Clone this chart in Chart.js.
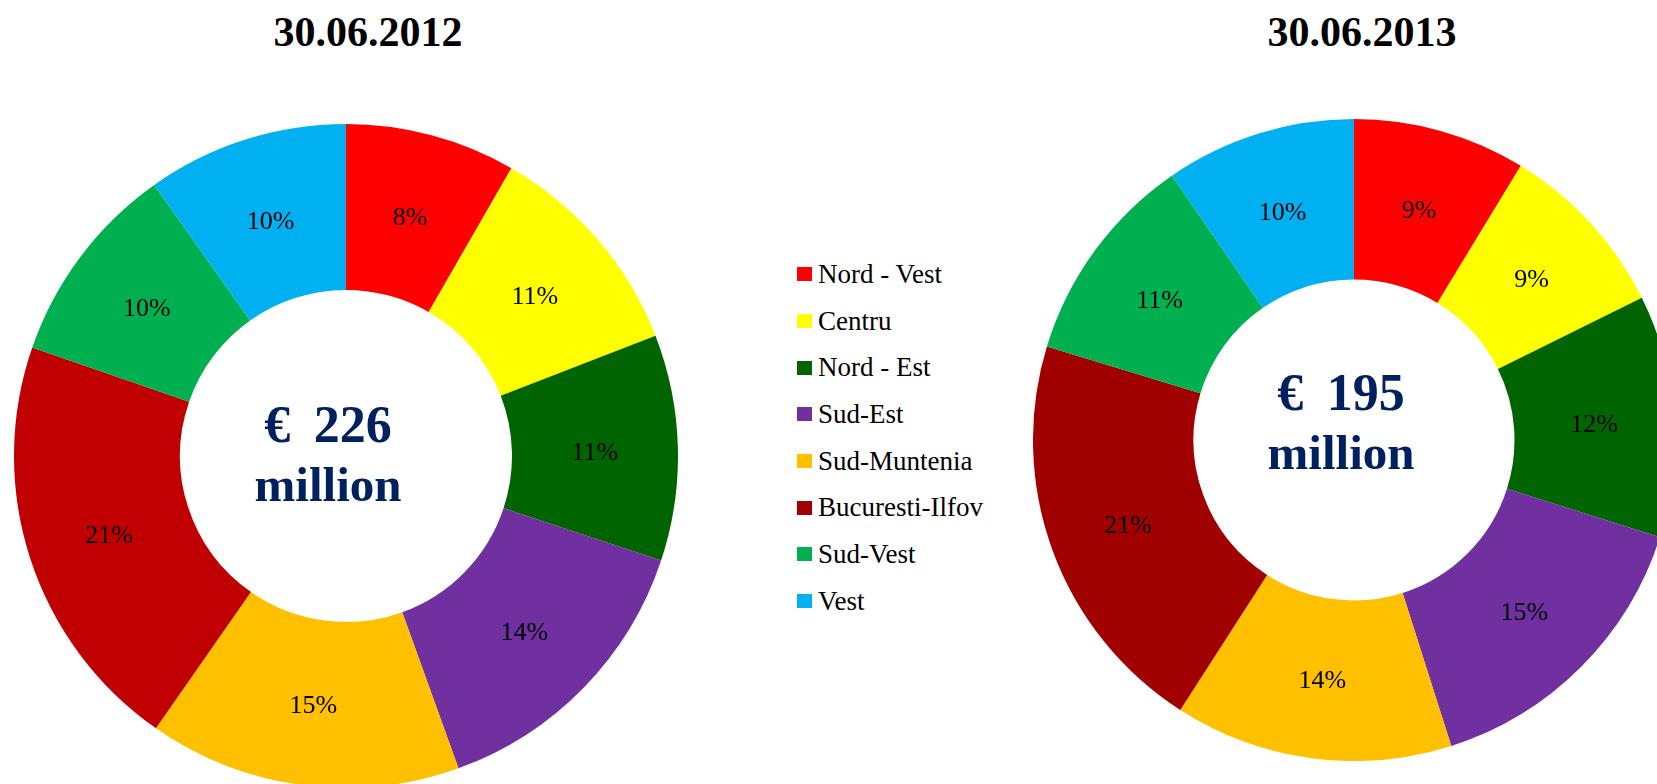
<!DOCTYPE html>
<html>
<head>
<meta charset="utf-8">
<script src="https://cdn.jsdelivr.net/npm/chart.js@4"></script>
<style>
  html, body { margin: 0; padding: 0; background: #fff; }
  body { width: 1657px; height: 784px; overflow: hidden; position: relative;
         font-family: "Liberation Serif", "Times New Roman", serif; }
  .box { position: absolute; }
  .title { position: absolute; width: 400px; text-align: center; font-weight: bold;
           font-size: 42px; line-height: 46px; color: #000; }
  #legend { position: absolute; left: 797px; top: 251px; }
  #legend div { height: 46.7px; display: flex; align-items: center; font-size: 27px; color: #000; }
  #legend span.sw { display: inline-block; width: 15px; height: 14px; margin-right: 6px; }
</style>
</head>
<body>

<div class="title" style="left:168px; top:9px;">30.06.2012</div>
<div class="title" style="left:1162px; top:9px;">30.06.2013</div>

<div class="box" style="left:14px; top:124px; width:664px; height:664px;"><canvas id="c2012" width="664" height="664"></canvas></div>
<div class="box" style="left:1033px; top:119px; width:642px; height:642px;"><canvas id="c2013" width="642" height="642"></canvas></div>

<div id="legend"></div>

<script>
// Data
const regions = ['Nord - Vest', 'Centru', 'Nord - Est', 'Sud-Est', 'Sud-Muntenia', 'Bucuresti-Ilfov', 'Sud-Vest', 'Vest'];
const share2012 = [8.3, 10.8, 11.0, 14.4, 15.2, 20.6, 9.9, 9.8];
const share2013 = [8.7, 9.0, 12.2, 15.2, 14.0, 20.6, 10.7, 9.6];
const total2012 = 226;
const total2013 = 195;

const colors2012 = ['#FF0000', '#FFFF00', '#006400', '#7030A0', '#FFC000', '#C00000', '#00B050', '#00B0F0'];
const colors2013 = ['#FF0000', '#FFFF00', '#006400', '#7030A0', '#FFC000', '#A00000', '#00B050', '#00B0F0'];

const serif = '"Liberation Serif", "Times New Roman", serif';

// percentage labels in each slice + total in the hole
const donutText = {
  id: 'donutText',
  afterDatasetsDraw(chart, args, opts) {
    const ctx = chart.ctx;
    const meta = chart.getDatasetMeta(0);
    const vals = chart.data.datasets[0].data;
    const sum = vals.reduce((a, b) => a + b, 0);
    ctx.save();
    ctx.textAlign = 'center';
    ctx.textBaseline = 'middle';
    ctx.fillStyle = '#000';
    ctx.font = '26px ' + serif;
    meta.data.forEach((arc, i) => {
      const p = arc.tooltipPosition();
      ctx.fillText(Math.round(vals[i] / sum * 100) + '%', p.x, p.y + 3);
    });
    const a = meta.data[0];
    ctx.fillStyle = '#002060';
    ctx.font = 'bold 52px ' + serif;
    ctx.fillText('€ \u2009' + opts.total, a.x + opts.dx, a.y + opts.dy - 29);
    ctx.font = 'bold 49px ' + serif;
    ctx.fillText('million', a.x + opts.dx, a.y + opts.dy + 30);
    ctx.restore();
  }
};

function makeDonut(id, values, colors, total, dx, dy) {
  return new Chart(document.getElementById(id), {
    type: 'doughnut',
    data: {
      labels: regions,
      datasets: [{ data: values, backgroundColor: colors, borderWidth: 0 }]
    },
    options: {
      responsive: false,
      animation: false,
      cutout: '50%',
      layout: { padding: 0 },
      plugins: {
        legend: { display: false },
        tooltip: { enabled: false },
        donutText: { total: total, dx: dx, dy: dy }
      }
    },
    plugins: [donutText]
  });
}

makeDonut('c2012', share2012, colors2012, total2012, -18, 2);
makeDonut('c2013', share2013, colors2013, total2013, -13, -14);

// Legend
const legend = document.getElementById('legend');
regions.forEach((r, i) => {
  const row = document.createElement('div');
  row.innerHTML = '<span class="sw" style="background:' + colors2013[i] + '"></span>' + r;
  legend.appendChild(row);
});
</script>
</body>
</html>
